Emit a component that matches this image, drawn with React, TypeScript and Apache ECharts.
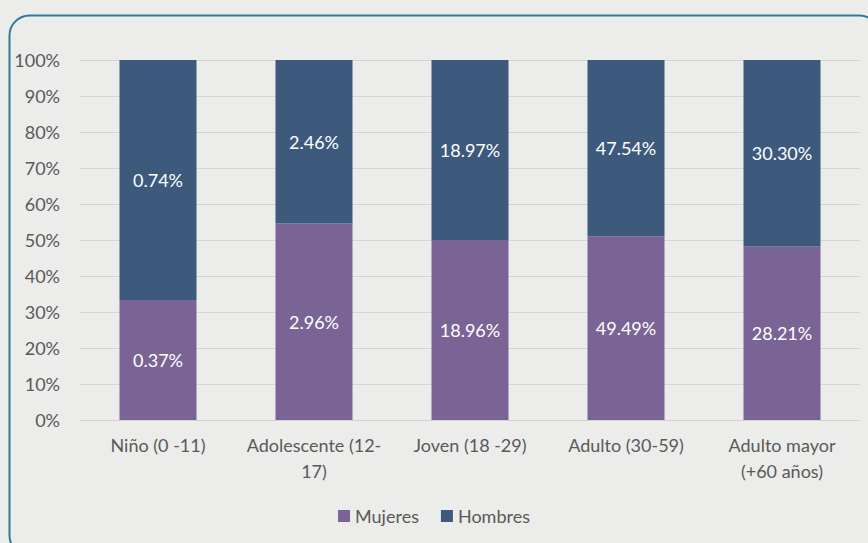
import React, { useEffect, useRef } from "react";
import * as echarts from "echarts";

const categories = ["Niño (0 -11)", "Adolescente (12-\n17)", "Joven (18 -29)", "Adulto (30-59)", "Adulto mayor\n(+60 años)"];
const mujeres = [0.37, 2.96, 18.96, 49.49, 28.21];
const hombres = [0.74, 2.46, 18.97, 47.54, 30.3];
const yTicks = [0, 10, 20, 30, 40, 50, 60, 70, 80, 90, 100];

const FONT = "Lato, 'Open Sans', sans-serif";

export default function App() {
  const ref = useRef<HTMLDivElement>(null);
  useEffect(() => {
    if (!ref.current) return;
    const chart = echarts.init(ref.current, undefined, { renderer: "svg" });
    const shareM = mujeres.map((m, i) => ({ value: (m / (m + hombres[i])) * 100, raw: m }));
    const shareH = hombres.map((h, i) => ({ value: (h / (mujeres[i] + h)) * 100, raw: h }));
    const fmtRaw = (p: any) => p.data.raw.toFixed(2) + "%";
    chart.setOption({
      animation: false,
      backgroundColor: "#ececeb",
      textStyle: { fontFamily: FONT },
      graphic: [
        {
          type: "rect",
          shape: { x: 9.5, y: 15.5, width: 870, height: 540, r: 20 },
          style: { fill: "none", stroke: "#2a7d97", lineWidth: 2 },
          silent: true,
        },
      ],
      grid: { left: 80, right: 8, top: 60, bottom: 123 },
      legend: {
        data: ["Mujeres", "Hombres"],
        left: "center",
        top: 502,
        itemWidth: 12,
        itemHeight: 12,
        itemGap: 22,
        icon: "rect",
        textStyle: { fontFamily: FONT, fontSize: 18, color: "#595959" },
      },
      xAxis: {
        type: "category",
        data: categories,
        axisLine: { show: true, lineStyle: { color: "#d4d4d4", width: 1 } },
        axisTick: { show: false },
        axisLabel: {
          interval: 0,
          fontFamily: FONT,
          fontSize: 18,
          color: "#595959",
          margin: 12,
          lineHeight: 26,
          align: "center",
        },
      },
      yAxis: {
        type: "value",
        min: yTicks[0],
        max: yTicks[yTicks.length - 1],
        interval: 10,
        splitLine: { lineStyle: { color: "#d4d4d4", width: 1 } },
        axisLine: { show: false },
        axisTick: { show: false },
        axisLabel: {
          fontFamily: FONT,
          fontSize: 18,
          color: "#595959",
          margin: 20,
          formatter: (v: number) => v + "%",
        },
      },
      series: [
        {
          name: "Mujeres",
          type: "bar",
          stack: "total",
          barWidth: 77,
          data: shareM,
          itemStyle: { color: "#7a6496" },
          label: { show: true, position: "inside", formatter: fmtRaw, color: "#ffffff", fontFamily: FONT, fontSize: 18 },
        },
        {
          name: "Hombres",
          type: "bar",
          stack: "total",
          barWidth: 77,
          data: shareH,
          itemStyle: { color: "#3d5a7d" },
          label: { show: true, position: "inside", formatter: fmtRaw, color: "#ffffff", fontFamily: FONT, fontSize: 18 },
        },
      ],
    });
    return () => chart.dispose();
  }, []);
  return <div ref={ref} style={{ position: "fixed", left: 0, top: 0, width: 868, height: 543 }} />;
}
